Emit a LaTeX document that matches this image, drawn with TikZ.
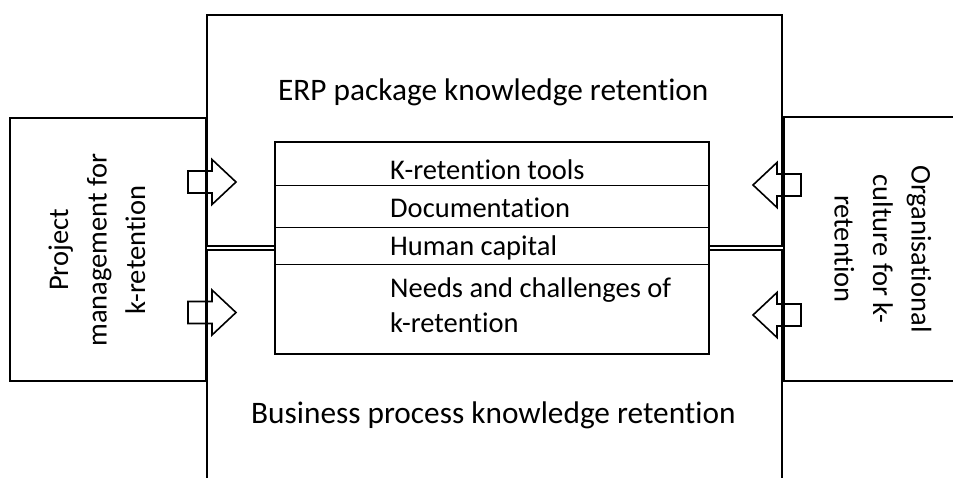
\documentclass[tikz,border=0pt]{standalone}
\usepackage{fontspec}
\setmainfont{Carlito}[Ligatures=NoCommon]
\begin{document}
\begin{tikzpicture}[x=1pt,y=-1pt,
  outer/.style={draw=black,line width=2pt},
  inner/.style={draw=black,line width=1pt},
  arrowline/.style={draw=black,line width=1.6pt,line join=miter},
  txt/.style={font=\fontsize{28.5}{36}\selectfont,inner sep=0pt},
  bigtxt/.style={font=\fontsize{31.3}{38}\selectfont,inner sep=0pt},
  rottxt/.style={font=\fontsize{28.5}{38.5}\selectfont,inner sep=0pt,align=center},
  blockarrow/.pic={\draw[arrowline] (-24,-11) -- (0,-11) -- (0,-22.5) -- (24,0) -- (0,22.5) -- (0,11) -- (-24,11) -- cycle;}
]
\useasboundingbox (0,0) rectangle (953,477);
% outer boxes
\draw[outer] (207,490) -- (207,249.5) -- (782,249.5) -- (782,490);
\draw[outer] (207,15) rectangle (782,245.5);
\draw[outer] (10,118) rectangle (205.5,381);
\draw[outer] (960,117) -- (784,117) -- (784,381) -- (960,381);
% centre box
\node[draw=black,line width=2pt,fill=white,minimum width=434pt,minimum height=212pt,inner sep=0pt,anchor=north west] (centre) at (274,141) {};
\coordinate (d1l) at (274,185); \coordinate (d1r) at (708,185);
\coordinate (d2l) at (274,227); \coordinate (d2r) at (708,227);
\coordinate (d3l) at (274,264); \coordinate (d3r) at (708,264);
\draw[inner] (d1l) -- (d1r);
\draw[inner] (d2l) -- (d2r);
\draw[inner] (d3l) -- (d3r);
% texts
\node[bigtxt,anchor=base west] (erp) at (278,100) {ERP package knowledge retention};
\node[bigtxt,anchor=base west] (bp) at (251,423) {Business process knowledge retention};
\node[txt,anchor=base west] (t1) at (390,179) {K-retention tools};
\node[txt,anchor=base west] (t2) at (390,217) {Documentation};
\node[txt,anchor=base west] (t3) at (390,255) {Human capital};
\node[txt,anchor=base west] (t4) at (390,297) {Needs and challenges of};
\node[txt,anchor=base west] (t5) at (390,332) {k-retention};
\node[rottxt,rotate=90] (pm) at (97,250) {Project\\management for\\k-retention};
\node[rottxt,rotate=-90] (oc) at (883,249) {Organisational\\culture for k-\\retention};
% block arrows
\pic at (212,182) {blockarrow};
\pic at (212,312.5) {blockarrow};
\pic[xscale=-1] at (777,185) {blockarrow};
\pic[xscale=-1] at (777,315) {blockarrow};
\end{tikzpicture}
\end{document}
